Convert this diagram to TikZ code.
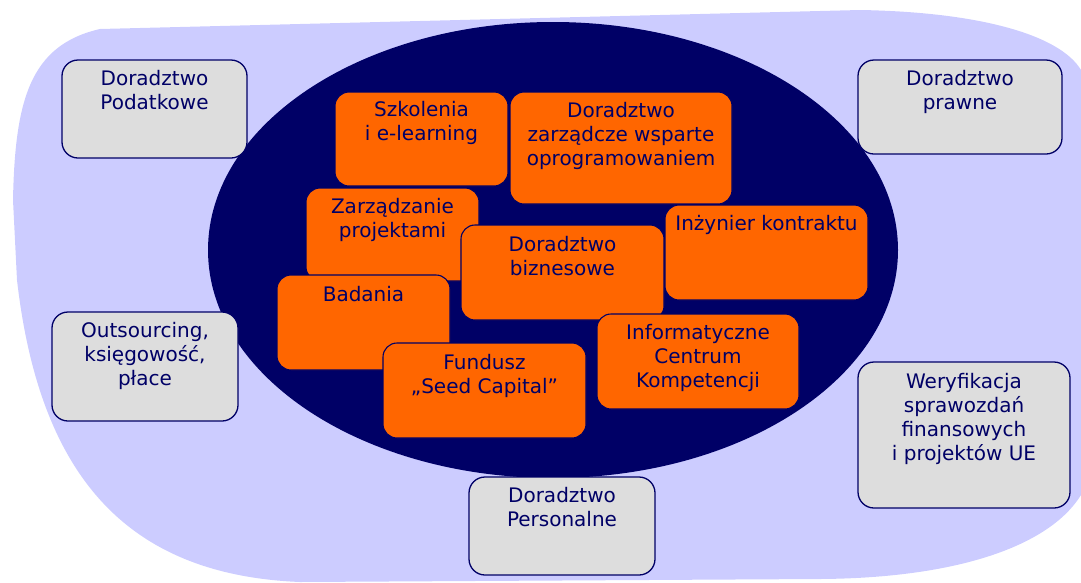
\documentclass[tikz,border=0pt]{standalone}
\usepackage{fontspec}
\setmainfont{DejaVu Sans}
\definecolor{navy}{HTML}{000066}
\definecolor{lav}{HTML}{CCCCFF}
\definecolor{lgray}{HTML}{DDDDDD}
\definecolor{orng}{HTML}{FF6600}
\tikzset{
  gbox/.style={draw=navy, line width=1.3pt, fill=lgray, rounded corners=16pt, rectangle, inner sep=0pt},
  obox/.style={draw=navy, line width=1.1pt, fill=orng, rounded corners=14pt, rectangle, inner sep=0pt},
  lbl/.style={text=navy, align=center, inner sep=0pt, anchor=north, font=\fontsize{20pt}{24pt}\selectfont}
}
\begin{document}
\begin{tikzpicture}[x=1pt, y=-1pt]
\useasboundingbox (0,0) rectangle (1081,582);
% background blob
\fill[lav] (100,29) -- (860,10) .. controls (980,12) and (1060,35) .. (1081,70)
  -- (1081,495) .. controls (1050,545) and (960,578) .. (820,579)
  -- (300,582) .. controls (130,575) and (40,480) .. (17,280)
  -- (13,200) .. controls (15,100) and (30,45) .. (100,29) -- cycle;
% central ellipse
\fill[navy] (553,250) ellipse [x radius=345, y radius=228];
% grey outer boxes
\node[gbox, minimum width=185pt, minimum height=98pt] (pod) at (154.5,109) {};
\node[lbl] at ([yshift=-11pt]pod.north) {Doradztwo\\Podatkowe};
\node[gbox, minimum width=204pt, minimum height=94pt] (pra) at (960,107) {};
\node[lbl] at ([yshift=-11pt]pra.north) {Doradztwo\\prawne};
\node[gbox, minimum width=186pt, minimum height=109pt] (out) at (145,366.5) {};
\node[lbl] at ([yshift=-11pt]out.north) {Outsourcing,\\księgowość,\\płace};
\node[gbox, minimum width=212pt, minimum height=146pt] (wer) at (964,435) {};
\node[lbl] at ([yshift=-12pt]wer.north) {Weryfikacja\\sprawozdań\\finansowych\\i projektów UE};
\node[gbox, minimum width=186pt, minimum height=98pt] (per) at (562,526) {};
\node[lbl] at ([yshift=-11pt]per.north) {Doradztwo\\Personalne};
% orange inner boxes
\node[obox, minimum width=173pt, minimum height=94pt] (szk) at (421.5,139) {};
\node[lbl] at ([yshift=-10pt]szk.north) {Szkolenia\\i e-learning};
\node[obox, minimum width=222pt, minimum height=112pt] (zar) at (621,148) {};
\node[lbl] at ([yshift=-11pt]zar.north) {Doradztwo\\zarządcze wsparte\\oprogramowaniem};
\node[obox, minimum width=173pt, minimum height=93pt] (pro) at (392.5,234.5) {};
\node[lbl] at ([yshift=-11pt]pro.north) {Zarządzanie\\projektami};
\node[obox, minimum width=203pt, minimum height=95pt] (inz) at (766.5,252.5) {};
\node[lbl] at ([yshift=-11pt]inz.north) {Inżynier kontraktu};
\node[obox, minimum width=203pt, minimum height=95pt] (biz) at (562.5,272.5) {};
\node[lbl] at ([yshift=-12pt]biz.north) {Doradztwo\\biznesowe};
\node[obox, minimum width=173pt, minimum height=95pt] (bad) at (363.5,322.5) {};
\node[lbl] at ([yshift=-12pt]bad.north) {Badania};
\node[obox, minimum width=202pt, minimum height=95pt] (inf) at (698,361.5) {};
\node[lbl] at ([yshift=-11pt]inf.north) {Informatyczne\\Centrum\\Kompetencji};
\node[obox, minimum width=203pt, minimum height=95pt] (fun) at (484.5,390.5) {};
\node[lbl] at ([yshift=-12pt]fun.north) {Fundusz\\„Seed Capital”};
\end{tikzpicture}
\end{document}
